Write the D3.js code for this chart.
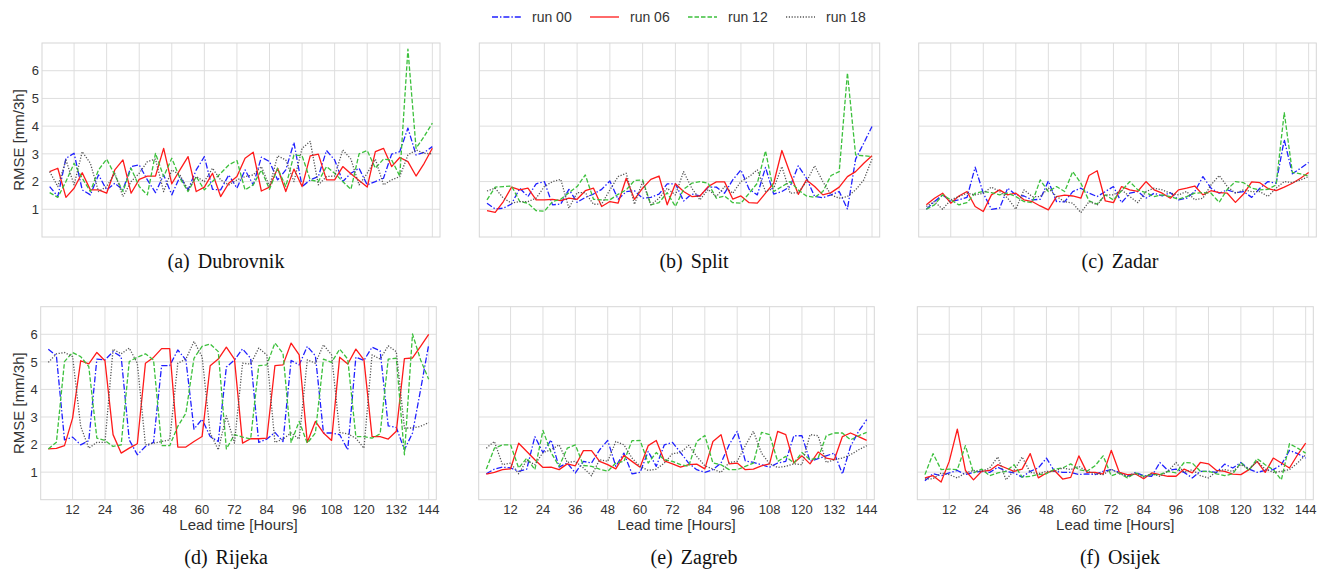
<!DOCTYPE html>
<html>
<head>
<meta charset="utf-8">
<script src="https://cdn.jsdelivr.net/npm/d3@7"></script>
<style>
  body { margin: 0; background: #fff; }
  .tick-label { font-family: "Liberation Sans", Arial, sans-serif; font-size: 13px; fill: #333; }
  .axis-title { font-family: "Liberation Sans", Arial, sans-serif; font-size: 15px; fill: #333; }
  .caption { font-family: "Liberation Serif", "Times New Roman", serif; font-size: 20px; fill: #111; }
  .legend-text { font-family: "Liberation Sans", Arial, sans-serif; font-size: 14px; fill: #333; }
</style>
</head>
<body>
<div class="demo"></div>
<script>
const w = 1332, h = 571;

const leadTimes = [3,6,9,12,15,18,21,24,27,30,33,36,39,42,45,48,51,54,57,60,63,66,69,72,
                   75,78,81,84,87,90,93,96,99,102,105,108,111,114,117,120,123,126,129,132,135,138,141,144];
const xTicks = [12,24,36,48,60,72,84,96,108,120,132,144];
const yTicks = [1,2,3,4,5,6];
const runs = ['run 00', 'run 06', 'run 12', 'run 18'];
const stations = ['(a) Dubrovnik', '(b) Split', '(c) Zadar', '(d) Rijeka', '(e) Zagreb', '(f) Osijek'];

// RMSE [mm/3h], one array per station and run
const dubrovnik00 = [1.82,1.46,2.84,3.02,1.70,1.52,2.24,1.70,1.94,1.70,2.54,2.60,2.06,1.60,2.24,1.52,2.18,1.70,2.42,2.90,1.72,1.70,2.24,1.76,2.42,1.88,2.88,2.72,2.06,2.42,3.41,1.82,2.06,2.18,3.12,2.78,2.00,2.30,2.48,1.88,2.00,2.12,2.99,3.08,3.93,2.96,3.05,3.26];
const dubrovnik06 = [2.36,2.48,1.43,1.76,2.32,1.70,1.70,1.58,2.42,2.78,1.58,2.08,2.20,2.20,3.20,1.92,2.42,2.90,1.64,1.80,2.30,1.46,1.94,2.18,2.84,3.06,1.66,1.80,2.48,1.64,2.45,1.82,2.93,2.99,2.06,2.06,2.54,2.28,2.04,1.80,3.08,3.20,2.54,2.87,2.72,2.20,2.66,3.20];
const dubrovnik12 = [1.60,1.43,2.00,2.66,2.12,1.64,2.42,2.81,2.24,1.64,2.48,1.82,1.52,3.02,2.18,2.84,2.12,1.64,2.18,1.70,2.00,2.30,2.60,2.76,1.70,1.88,2.42,1.72,2.48,1.82,2.96,2.93,2.06,2.00,2.54,2.30,2.00,1.72,3.00,3.12,2.48,2.81,2.78,2.20,6.78,3.20,3.63,4.11];
const dubrovnik18 = [2.36,1.82,2.78,1.88,3.08,2.66,1.64,1.82,2.30,1.46,2.00,2.30,2.72,2.81,1.64,2.42,2.24,1.70,2.18,2.00,2.48,2.06,1.88,2.06,2.18,2.24,2.54,1.82,2.93,2.78,2.00,3.20,3.45,1.88,2.18,2.20,3.14,2.81,1.88,2.30,2.81,1.88,2.06,2.18,2.96,3.14,3.02,3.00];

const split00 = [1.22,1.01,1.04,1.19,1.76,1.46,1.92,2.00,1.16,1.19,1.72,1.25,1.43,1.55,1.72,2.02,1.36,1.64,1.67,1.40,1.43,1.55,1.92,1.92,1.30,1.55,1.48,1.80,1.80,1.58,2.06,2.42,1.72,1.52,2.51,1.55,1.64,1.82,2.57,2.12,1.46,1.42,1.52,1.64,1.01,2.81,3.39,3.99];
const split06 = [0.95,0.89,1.28,1.80,1.70,1.76,1.34,1.34,1.36,1.31,1.40,1.36,1.67,1.76,1.10,1.28,1.22,2.12,1.36,1.76,2.08,2.20,1.16,1.92,1.64,1.46,1.48,1.82,1.99,1.99,1.37,1.48,1.24,1.22,1.58,1.94,3.12,2.30,1.54,2.06,1.82,1.52,1.60,1.80,2.18,2.36,2.66,2.93];
const split12 = [1.34,1.80,1.82,1.84,1.28,1.22,0.95,0.93,1.28,1.36,1.60,1.82,2.24,1.36,1.34,1.34,1.54,1.70,2.04,2.06,1.16,1.24,1.60,1.10,1.72,1.94,2.00,1.94,1.40,1.48,1.24,1.22,1.58,1.94,3.11,1.64,1.82,2.00,1.70,1.48,1.43,1.64,2.22,2.36,5.92,2.96,2.93,2.90];
const split18 = [1.66,1.76,1.40,1.22,1.28,1.28,1.40,1.82,2.00,2.08,1.04,1.60,1.60,1.18,1.19,1.70,2.18,2.30,1.18,2.00,1.16,1.40,1.76,1.52,2.36,1.76,1.34,1.72,1.46,1.82,1.58,2.00,2.18,2.42,1.64,1.76,2.54,1.58,1.60,2.00,2.57,2.00,1.52,1.40,1.46,1.70,2.06,2.81];

const zadar00 = [1.00,1.28,1.52,1.28,1.34,1.43,2.52,1.58,1.00,1.04,1.76,1.52,1.48,1.34,1.36,2.02,1.28,1.27,1.64,1.76,1.58,1.46,1.64,1.82,1.24,1.58,1.64,1.40,1.58,1.48,1.60,1.34,1.40,1.64,2.18,1.76,1.58,1.70,1.60,1.64,1.43,1.76,2.00,1.94,3.51,2.28,2.48,2.69];
const zadar06 = [1.16,1.40,1.58,1.22,1.48,1.64,1.10,0.92,1.52,1.70,1.52,1.58,1.34,1.28,1.12,0.98,1.46,1.51,1.48,1.40,2.22,2.39,1.30,1.24,1.82,1.70,1.65,2.00,1.70,1.58,1.40,1.70,1.76,1.84,1.52,1.67,1.60,1.58,1.25,1.55,1.99,1.96,1.75,1.67,1.80,1.94,2.12,2.33];
const zadar12 = [1.00,1.16,1.52,1.34,1.16,1.24,1.58,1.64,1.60,1.52,1.58,1.46,1.28,1.24,2.06,1.64,1.82,1.64,2.36,1.94,1.30,1.19,1.52,1.34,1.67,2.00,1.70,1.60,1.46,1.52,1.46,1.36,1.46,1.58,1.60,1.58,1.25,1.72,2.00,1.96,1.76,1.70,1.72,1.88,4.49,2.33,2.28,2.20];
const zadar18 = [1.10,1.28,1.00,1.34,1.46,1.58,1.52,1.58,1.80,1.64,1.40,1.00,1.70,1.46,1.46,1.76,1.46,1.28,1.22,0.88,1.28,1.16,1.52,1.52,1.70,1.46,1.24,1.64,1.76,1.70,1.58,1.52,1.64,1.34,1.40,1.88,2.22,1.82,1.58,1.70,1.64,1.64,1.46,1.76,2.00,1.96,2.06,2.18];

const rijeka00 = [5.46,5.22,2.17,2.27,1.99,2.14,5.10,5.07,5.37,5.19,2.17,1.63,1.93,2.08,4.86,4.86,5.43,5.07,2.56,2.92,2.29,2.11,4.81,5.07,5.47,5.13,2.08,2.20,2.44,2.11,5.05,4.89,5.56,5.22,2.42,2.42,2.36,1.81,5.17,5.05,5.53,5.40,2.68,2.62,1.81,2.42,3.99,5.62];
const rijeka06 = [1.84,1.86,1.96,2.96,5.04,4.93,5.34,5.04,2.36,1.69,1.87,2.03,4.95,5.16,5.48,5.48,1.91,1.91,2.11,2.29,4.86,5.10,5.53,5.10,2.05,2.21,2.21,2.23,4.86,4.89,5.68,5.25,2.08,2.84,2.42,2.15,5.17,4.92,5.46,5.07,2.29,2.29,2.20,2.48,5.12,5.14,5.56,6.00];
const rijeka12 = [1.84,2.08,5.01,5.34,5.19,4.83,2.23,2.15,1.93,1.99,5.01,5.17,5.29,5.07,1.96,1.96,2.66,3.14,5.13,5.56,5.65,5.37,1.84,2.36,2.27,2.20,4.86,4.89,5.68,5.31,2.08,2.84,2.05,2.42,5.10,4.98,5.46,5.10,2.29,2.29,2.23,2.39,5.10,5.13,1.63,6.01,5.07,4.37];
const rijeka18 = [4.98,5.29,5.34,5.19,2.66,1.87,2.08,2.08,5.46,5.29,5.50,4.95,1.99,2.05,2.11,2.17,4.95,5.10,5.74,5.19,2.42,1.81,3.04,2.05,4.95,4.92,5.50,5.25,2.08,2.20,2.42,2.20,5.07,4.95,5.62,5.25,2.44,2.39,2.23,1.87,5.25,5.10,5.58,5.37,2.60,2.60,2.66,2.80];

const zagreb00 = [0.94,1.11,1.18,1.15,1.03,1.11,2.29,1.71,2.17,1.18,1.33,0.97,1.39,1.33,1.81,2.15,1.21,1.69,0.94,0.99,1.75,1.21,1.99,2.08,1.71,1.33,1.09,0.99,1.09,1.33,1.99,2.48,1.41,1.35,1.27,1.18,1.33,1.39,2.32,2.32,1.39,1.49,1.59,1.69,0.93,1.93,2.48,2.90];
const zagreb06 = [0.93,0.99,1.09,1.12,2.05,1.75,1.45,1.17,1.18,1.09,1.30,1.23,1.78,1.78,1.39,1.27,1.12,1.61,1.39,1.18,1.96,2.15,1.41,1.30,1.18,1.27,1.29,1.12,2.11,2.36,1.30,1.33,1.09,1.11,1.23,1.30,2.48,2.36,1.33,1.59,1.30,1.73,1.51,1.45,2.29,2.42,2.29,2.15];
const zagreb12 = [1.11,1.87,1.99,1.99,1.15,1.51,1.09,2.51,1.71,1.21,1.87,1.99,1.24,1.21,1.11,1.03,1.33,1.39,2.14,2.15,1.33,1.71,1.45,1.39,1.27,1.21,2.11,2.33,1.33,1.27,1.09,1.09,1.21,1.33,2.44,2.36,1.39,1.57,1.33,1.71,1.45,1.51,2.32,2.42,2.42,2.17,2.32,2.44];
const zagreb18 = [1.87,2.11,1.27,1.33,0.94,1.43,1.27,1.71,1.81,1.99,1.35,1.39,1.15,0.87,1.45,1.39,2.11,1.99,1.51,1.21,1.06,1.11,1.33,1.67,1.71,1.97,1.57,1.23,1.11,0.99,1.35,1.39,1.96,2.48,1.69,1.30,1.17,1.21,1.30,1.27,2.36,2.32,1.35,1.45,1.51,1.63,1.81,1.96];

const osijek00 = [0.69,0.94,0.87,0.97,1.06,0.91,0.99,1.03,0.99,1.18,1.03,0.97,0.82,1.03,1.15,1.51,1.03,0.99,0.99,0.91,0.94,0.91,1.03,1.09,0.99,0.85,0.99,0.87,0.85,1.35,1.06,1.11,0.99,0.79,1.03,1.03,0.99,1.29,1.15,1.35,1.11,0.99,1.06,1.09,1.27,1.79,1.67,1.51];
const osijek06 = [0.79,0.87,0.64,1.39,2.56,1.06,0.72,1.03,1.06,1.27,1.15,1.03,1.11,1.67,0.79,0.97,1.06,0.75,0.81,1.59,0.99,0.99,0.93,1.79,0.99,0.91,0.93,0.76,0.97,0.91,0.85,0.85,1.11,0.97,1.35,1.30,1.06,1.03,0.93,0.91,1.09,1.39,0.99,1.51,1.33,1.15,1.63,2.05];
const osijek12 = [0.91,1.67,1.09,1.11,1.09,1.96,0.97,1.11,0.87,0.97,1.03,1.27,0.82,0.85,0.91,0.94,1.11,1.15,1.30,1.09,1.03,1.23,1.59,0.87,0.97,0.79,0.97,0.85,0.91,0.91,1.03,0.97,1.35,1.33,1.03,1.03,0.94,0.87,0.94,1.35,1.06,1.49,1.27,1.09,0.72,2.03,1.87,1.69];
const osijek18 = [0.75,0.76,0.97,0.91,0.79,0.97,1.06,1.03,1.15,1.55,0.72,1.06,1.55,0.99,0.94,1.03,1.03,1.15,1.09,1.21,1.03,0.94,0.91,1.11,0.94,0.85,0.94,0.82,0.94,0.85,1.03,1.35,0.99,1.09,0.87,0.79,1.03,1.09,1.03,1.27,1.11,1.39,1.11,0.99,1.03,1.09,1.33,1.63];

const stationSeries = [
  [dubrovnik00, dubrovnik06, dubrovnik12, dubrovnik18],
  [split00, split06, split12, split18],
  [zadar00, zadar06, zadar12, zadar18],
  [rijeka00, rijeka06, rijeka12, rijeka18],
  [zagreb00, zagreb06, zagreb12, zagreb18],
  [osijek00, osijek06, osijek12, osijek18]
];

// line styles per run: b-. r- g-- k:
const runStyle = [
  {color: '#2020ff', dash: '6,2,1.4,2'},
  {color: '#ff1a1a', dash: null},
  {color: '#3cc03c', dash: '4.5,2'},
  {color: '#555555', dash: '1.2,1.6'}
];

// panel boxes [left, right, top, bottom] and caption centre
const panels = [
  {x0: 42,    x1: 440,    y0: 43,    y1: 237,   cap: 226,  capY: 268, left: true,  bottom: false},
  {x0: 479.3, x1: 879.7,  y0: 43,    y1: 237,   cap: 694,  capY: 268, left: false, bottom: false},
  {x0: 918.7, x1: 1316.3, y0: 43,    y1: 237,   cap: 1120, capY: 268, left: false, bottom: false},
  {x0: 40.7,  x1: 436.3,  y0: 306.7, y1: 499.7, cap: 226,  capY: 564, left: true,  bottom: true},
  {x0: 478.7, x1: 874.3,  y0: 306.7, y1: 499.7, cap: 694,  capY: 564, left: false, bottom: true},
  {x0: 917.3, x1: 1313.3, y0: 306.7, y1: 499.7, cap: 1120, capY: 564, left: false, bottom: true}
];

let svg = d3.select('.demo').append('svg').attr('width', w).attr('height', h);

panels.forEach(function(p, i) {
  let xScale = d3.scaleLinear().domain([0.18, 146.82]).range([p.x0, p.x1]);
  let yScale = d3.scaleLinear().domain([0, 7]).range([p.y1, p.y0]);
  let g = svg.append('g');

  // grid
  g.selectAll('line.vg').data(xTicks).enter().append('line')
    .attr('x1', d => xScale(d)).attr('x2', d => xScale(d))
    .attr('y1', p.y0).attr('y2', p.y1)
    .attr('stroke', '#dedede').attr('stroke-width', 1);
  g.selectAll('line.hg').data(yTicks).enter().append('line')
    .attr('x1', p.x0).attr('x2', p.x1)
    .attr('y1', d => yScale(d)).attr('y2', d => yScale(d))
    .attr('stroke', '#dedede').attr('stroke-width', 1);
  g.append('rect')
    .attr('x', p.x0).attr('y', p.y0)
    .attr('width', p.x1 - p.x0).attr('height', p.y1 - p.y0)
    .attr('fill', 'none').attr('stroke', '#d6d6d6').attr('stroke-width', 1);

  // series
  let line = d3.line().x((d, j) => xScale(leadTimes[j])).y(d => yScale(d));
  stationSeries[i].forEach(function(vals, r) {
    g.append('path').datum(vals)
      .attr('d', line)
      .attr('fill', 'none')
      .attr('stroke', runStyle[r].color)
      .attr('stroke-width', 1.3)
      .attr('stroke-dasharray', runStyle[r].dash)
      .attr('stroke-linejoin', 'round');
  });

  if (p.left) {
    g.selectAll('text.yt').data(yTicks).enter().append('text')
      .attr('class', 'tick-label')
      .attr('x', p.x0 - 3).attr('y', d => yScale(d))
      .attr('dy', '0.36em').attr('text-anchor', 'end')
      .text(d => d);
    g.append('text').attr('class', 'axis-title')
      .attr('transform', 'translate(24,' + ((p.y0 + p.y1) / 2) + ') rotate(-90)')
      .attr('text-anchor', 'middle')
      .text('RMSE [mm/3h]');
  }
  if (p.bottom) {
    g.selectAll('text.xt').data(xTicks).enter().append('text')
      .attr('class', 'tick-label')
      .attr('x', d => xScale(d)).attr('y', p.y1 + 14)
      .attr('text-anchor', 'middle')
      .text(d => d);
    g.append('text').attr('class', 'axis-title')
      .attr('x', (p.x0 + p.x1) / 2).attr('y', p.y1 + 30)
      .attr('text-anchor', 'middle')
      .text('Lead time [Hours]');
  }

  let parts = stations[i].split(' ');
  let cap = g.append('text').attr('class', 'caption')
    .attr('x', p.cap).attr('y', p.capY).attr('text-anchor', 'middle');
  cap.append('tspan').text(parts[0]);
  cap.append('tspan').attr('dx', 8).text(parts[1]);
});

// legend
let legend = svg.append('g').attr('transform', 'translate(492,17)');
runs.forEach(function(name, r) {
  let item = legend.append('g').attr('transform', 'translate(' + (r * 98) + ',0)');
  item.append('line')
    .attr('x1', 0).attr('x2', 29).attr('y1', 0).attr('y2', 0)
    .attr('stroke', runStyle[r].color).attr('stroke-width', 1.3)
    .attr('stroke-dasharray', runStyle[r].dash);
  item.append('text').attr('class', 'legend-text')
    .attr('x', 40).attr('y', 5)
    .text(name);
});
</script>
</body>
</html>
